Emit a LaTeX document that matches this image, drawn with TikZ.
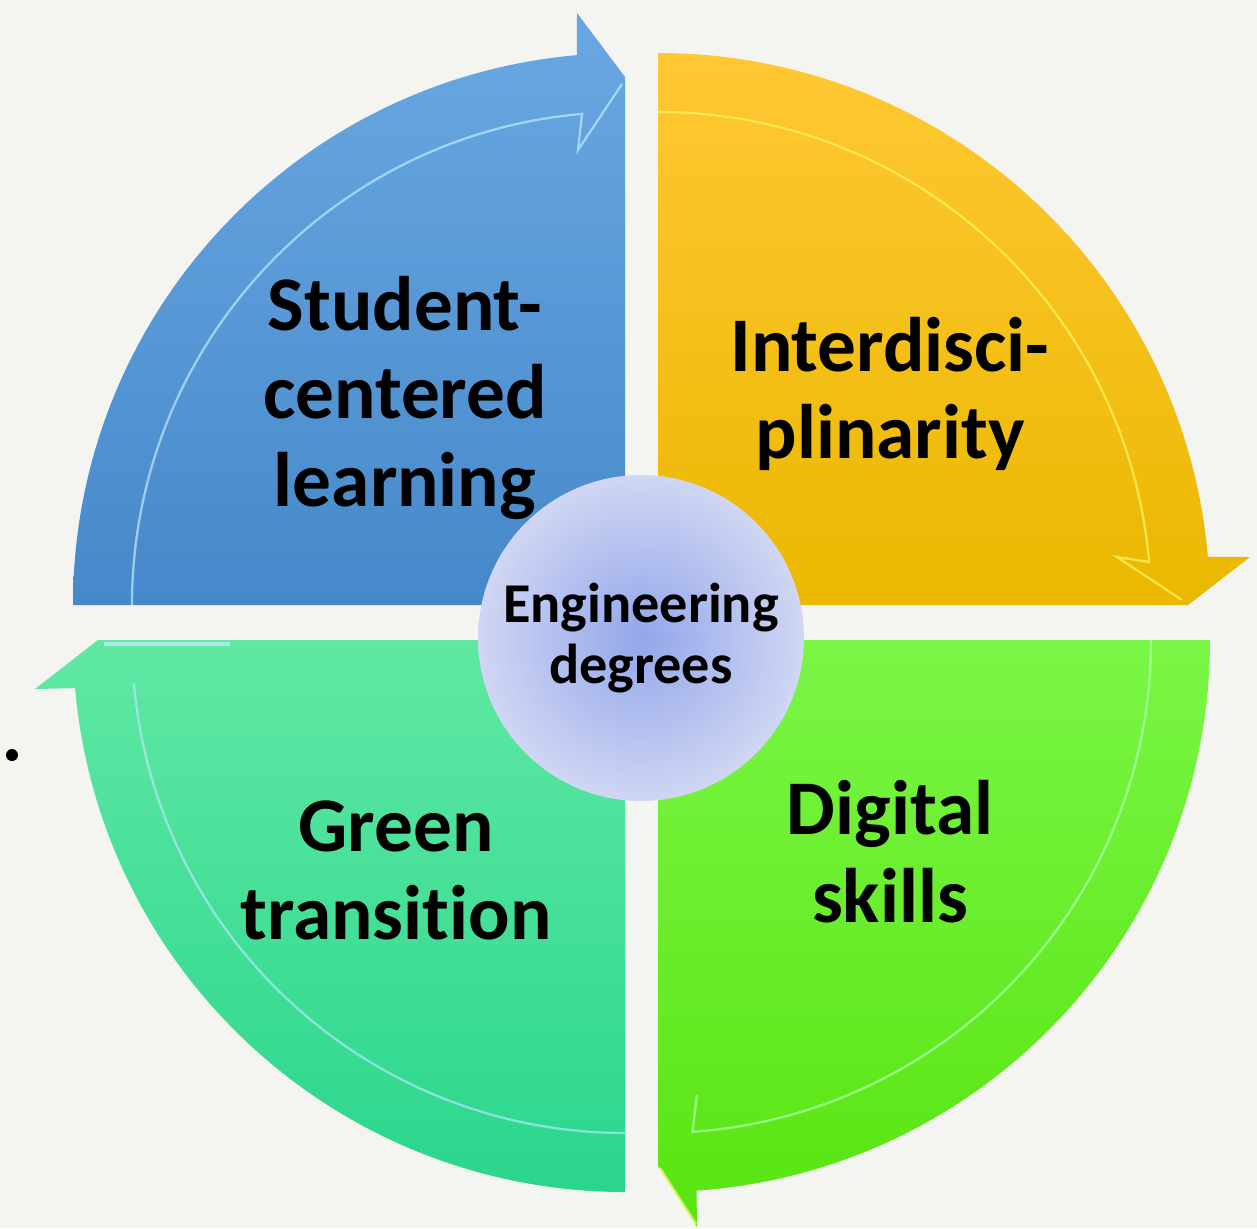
\documentclass[tikz,border=0pt]{standalone}
\usepackage{fontspec}
\setmainfont[Ligatures=NoCommon]{Carlito}
\usepackage{tikz}
\usetikzlibrary{positioning}
\definecolor{paper}{RGB}{244,244,240}
\definecolor{bluetop}{RGB}{106,168,226}
\definecolor{bluebot}{RGB}{70,136,202}
\definecolor{yellowtop}{RGB}{255,200,52}
\definecolor{yellowbot}{RGB}{234,184,0}
\definecolor{greentop}{RGB}{122,246,70}
\definecolor{greenbot}{RGB}{88,228,16}
\definecolor{tealtop}{RGB}{96,232,164}
\definecolor{tealbot}{RGB}{42,214,140}
\definecolor{hubcore}{RGB}{146,166,234}
\definecolor{hubrim}{RGB}{208,214,243}

\begin{document}
\begin{tikzpicture}[x=0.02cm, y=-0.02cm]
        \tikzstyle{quadtext}=[align=center, inner sep=0pt, text=black, font=\fontsize{44}{50}\selectfont\bfseries]
        \tikzstyle{hubtext}=[circle, minimum size=6.52cm, inner sep=0pt, align=center, font=\fontsize{32}{35}\selectfont\bfseries]
        \tikzstyle{glint}=[draw=white, draw opacity=0.7, line width=1.3pt]
        \useasboundingbox (0,0) rectangle (1257,1228);
        \fill[paper] (0,0) rectangle (1257,1228);

        % blue quarter, head at the top
        \shade[top color=bluetop, bottom color=bluebot] (625,605) -- (73,605)
                arc[start angle=180, end angle=265, radius=552] -- (577,13) -- (625,77) -- cycle;
        \draw[glint, draw=cyan!25!white] (132,605) arc[start angle=180, end angle=265, radius=493] -- (578,150) -- (622,84);

        % yellow quarter, head on the right
        \shade[top color=yellowtop, bottom color=yellowbot] (658,605) -- (658,53)
                arc[start angle=270, end angle=355, radius=552] -- (1250,557) -- (1188,605) -- cycle;
        \draw[glint, draw=yellow!60!white] (658,112) arc[start angle=270, end angle=355, radius=493] -- (1117,557) -- (1182,600);

        % green quarter, head at the bottom
        \shade[top color=greentop, bottom color=greenbot] (658,640) -- (1210,640)
                arc[start angle=0, end angle=86, radius=552] -- (697,1227) -- (658,1166) -- cycle;
        \draw[glint, draw=green!30!white] (1151,640) arc[start angle=0, end angle=86, radius=493] -- (697,1095);
        \draw[glint, draw=yellow!50!white] (660,1168) -- (696,1224);

        % teal quarter, head on the left
        \shade[top color=tealtop, bottom color=tealbot] (625,640) -- (625,1192)
                arc[start angle=90, end angle=175, radius=552] -- (35,689) -- (98,640) -- cycle;
        \draw[glint, draw=cyan!30!white] (625,1133) arc[start angle=90, end angle=175, radius=493];
        \draw[glint, draw=cyan!20!white, line width=2.5pt] (104,644) -- (230,644);

        % labels
        \node[quadtext] (student) at (405,398) {Student-\\centered\\learning};
        \node[quadtext] (inter) at (890,394) {Interdisci-\\plinarity};
        \node[quadtext] (green) at (396,870) {Green\\transition};
        \node[quadtext] (digital) at (890,852) {Digital\\skills};

        % hub
        \node[hubtext, inner color=hubcore, outer color=hubrim] (hub) at (641,638) {Engineering\\degrees};

        \fill (12,755) circle (6);
\end{tikzpicture}
\end{document}
